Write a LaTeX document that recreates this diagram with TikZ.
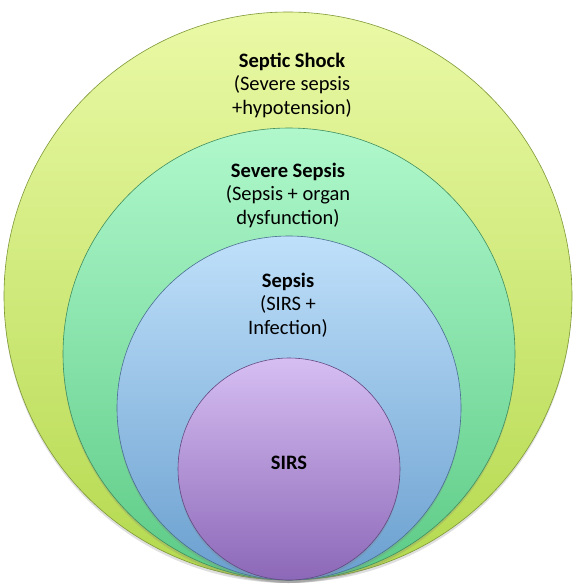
\documentclass[tikz,border=0pt]{standalone}
\usepackage{fontspec}
\setmainfont{Carlito}
\usetikzlibrary{shadows}

\definecolor{shockTop}{HTML}{EAF9A6}
\definecolor{shockBot}{HTML}{B4D94E}
\definecolor{severeTop}{HTML}{B0F8CC}
\definecolor{severeBot}{HTML}{5CCB86}
\definecolor{sepsisTop}{HTML}{BFE0FA}
\definecolor{sepsisBot}{HTML}{6A9FCF}
\definecolor{sirsTop}{HTML}{D6BEF2}
\definecolor{sirsBot}{HTML}{8C68B8}

\tikzset{
  ring/.style={circle, inner sep=0pt, draw=#1Bot!70!black, line width=0.6pt,
    top color=#1Top, bottom color=#1Bot,
    drop shadow={opacity=0.25, shadow xshift=0pt, shadow yshift=-3pt}},
  label/.style={align=center, font=\fontsize{20.5}{23.5}\selectfont, text=black}
}

\begin{document}
\begin{tikzpicture}[x=1pt,y=-1pt]
\useasboundingbox (0,0) rectangle (576,584);
% circles, all touching at the bottom
\node[ring=shock, minimum size=568pt] (shock) at (288,296) {};
\node[ring=severe, minimum size=452pt] (severe) at (289,354) {};
\node[ring=sepsis, minimum size=344pt] (sepsis) at (289,408) {};
\node[ring=sirs, minimum size=222pt] (sirs) at (289,469) {};
% texts
\node[label] (shocktext) at (292,85) {\textbf{Septic Shock}\\(Severe sepsis\\+hypotension)};
\node[label] (severetext) at (288,195) {\textbf{Severe Sepsis}\\(Sepsis + organ\\dysfunction)};
\node[label] (sepsistext) at (288,305) {\textbf{Sepsis}\\(SIRS +\\Infection)};
\node[label] (sirstext) at (289,463) {\textbf{SIRS}};
\end{tikzpicture}
\end{document}
